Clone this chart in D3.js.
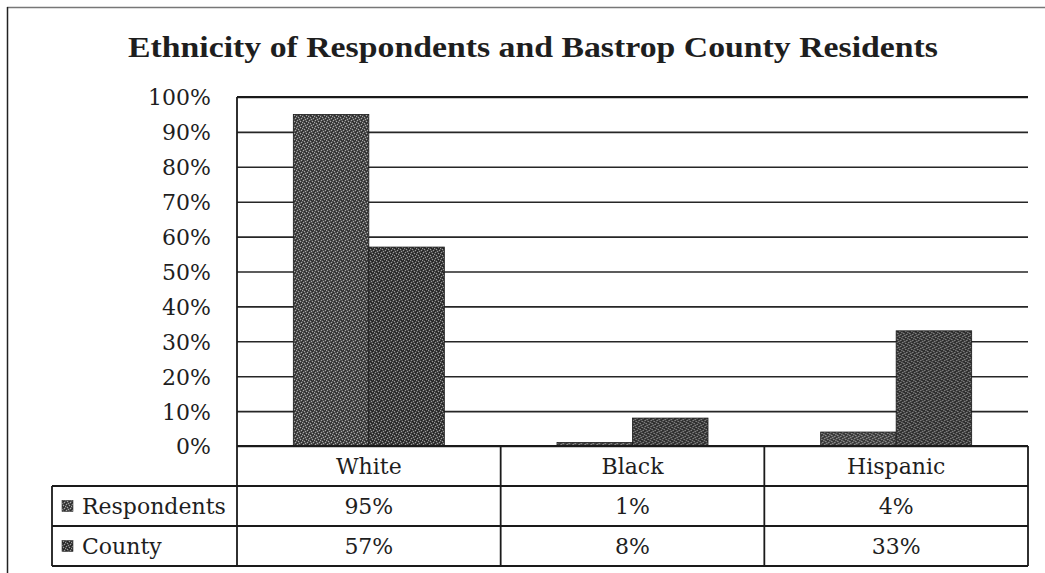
<!DOCTYPE html>
<html>
<head>
<meta charset="utf-8">
<script src="https://cdn.jsdelivr.net/npm/d3@7"></script>
<style>
  html, body { margin: 0; padding: 0; background: #fff; }
  svg { display: block; }
  text { font-family: "DejaVu Serif", "Liberation Serif", serif; fill: #1e1e1e; }
</style>
</head>
<body>
<svg id="chart" width="1045" height="573"></svg>
<script>
// Ethnicity shares (percent) by group
const categories = ["White", "Black", "Hispanic"];
const seriesNames = ["Respondents", "County"];
const respondents = [95, 1, 4];
const county = [57, 8, 33];
const tickValues = [0, 10, 20, 30, 40, 50, 60, 70, 80, 90, 100];
const titleText = "Ethnicity of Respondents and Bastrop County Residents";

const seriesValues = [respondents, county];

const svg = d3.select("#chart");
const W = 1045, H = 573;

// plot frame
const plotLeft = 237, plotRight = 1028, plotTop = 97, plotBottom = 446;
const rowH = 40;
const tableLeft = 52;
const tableBottom = plotBottom + rowH * 3;

// textured fills for the bars
const defs = svg.append("defs");
const fills = [
  { id: "texA", base: "#4c4c4c", dots: "#a8a8a8", dark: "#2a2a2a" },
  { id: "texB", base: "#404040", dots: "#9a9a9a", dark: "#202020" }
];
fills.forEach(f => {
  const p = defs.append("pattern")
    .attr("id", f.id).attr("width", 6).attr("height", 6)
    .attr("patternUnits", "userSpaceOnUse");
  p.append("rect").attr("width", 6).attr("height", 6).attr("fill", f.base);
  [[0,0],[3,1],[1,3],[4,4],[5,2],[2,5]].forEach(([x, y]) =>
    p.append("rect").attr("x", x).attr("y", y).attr("width", 1).attr("height", 1).attr("fill", f.dots));
  [[1,1],[4,0],[2,2],[0,4],[5,5],[3,3],[4,2]].forEach(([x, y]) =>
    p.append("rect").attr("x", x).attr("y", y).attr("width", 1).attr("height", 1).attr("fill", f.dark));
});

// outer frame lines
svg.append("line").attr("x1", 7).attr("x2", W).attr("y1", 7.5).attr("y2", 7.5)
  .attr("stroke", "#777").attr("stroke-width", 1.5);
svg.append("line").attr("x1", 7.5).attr("x2", 7.5).attr("y1", 7).attr("y2", H)
  .attr("stroke", "#222").attr("stroke-width", 1.5);

// title
const title = svg.append("text")
  .attr("x", (128 + 938) / 2).attr("y", 57)
  .attr("text-anchor", "middle")
  .style("font-family", '"Liberation Serif", serif')
  .style("font-weight", "bold").style("font-size", "29px")
  .text(titleText);
const tl = title.node().getComputedTextLength();
if (Math.abs(tl - 810) > 4) title.attr("textLength", 810).attr("lengthAdjust", "spacingAndGlyphs");

// scales
const y = d3.scaleLinear().domain([0, 100]).range([plotBottom, plotTop]);
const x0 = d3.scaleBand().domain(categories).range([plotLeft, plotRight]).padding(0);
const x1 = d3.scaleBand().domain(seriesNames).range([0, x0.bandwidth()])
  .paddingInner(0).paddingOuter(0.746);

// gridlines + tick labels
const yAxis = d3.axisLeft(y)
  .tickValues(tickValues)
  .tickSize(-(plotRight - plotLeft))
  .tickPadding(26)
  .tickFormat(d => d + "%");
const gAxis = svg.append("g").attr("transform", `translate(${plotLeft},0)`).call(yAxis);
gAxis.select(".domain").remove();
gAxis.selectAll(".tick line").attr("stroke", "#262626").attr("stroke-width", 1.6);
gAxis.selectAll(".tick text")
  .attr("fill", "#1e1e1e")
  .style("font-family", '"DejaVu Serif", serif')
  .style("font-size", "22px")
  .attr("dy", "0.36em");

// bars
const groups = svg.append("g").selectAll("g")
  .data(categories).join("g")
  .attr("transform", d => `translate(${x0(d)},0)`);
groups.selectAll("rect")
  .data((d, i) => seriesNames.map((s, j) => ({ s, j, v: seriesValues[j][i] })))
  .join("rect")
  .attr("x", d => x1(d.s))
  .attr("width", x1.bandwidth())
  .attr("y", d => y(d.v))
  .attr("height", d => y(0) - y(d.v))
  .attr("fill", d => `url(#${fills[d.j].id})`)
  .attr("stroke", "#1a1a1a").attr("stroke-width", 0.8);

// data table beneath the plot
const table = svg.append("g");
const lineStyle = sel => sel.attr("stroke", "#1a1a1a").attr("stroke-width", 1.8);

// header row (category names)
table.append("line").attr("x1", plotLeft).attr("x2", plotRight)
  .attr("y1", plotBottom).attr("y2", plotBottom).call(lineStyle);
[1, 2].forEach(r => table.append("line")
  .attr("x1", tableLeft).attr("x2", plotRight)
  .attr("y1", plotBottom + rowH * r).attr("y2", plotBottom + rowH * r).call(lineStyle));
table.append("line").attr("x1", tableLeft).attr("x2", plotRight)
  .attr("y1", tableBottom).attr("y2", tableBottom).call(lineStyle);

// vertical rules
table.append("line").attr("x1", plotLeft).attr("x2", plotLeft)
  .attr("y1", plotTop).attr("y2", tableBottom).call(lineStyle);
categories.forEach(c => {
  const xr = x0(c) + x0.bandwidth();
  table.append("line").attr("x1", xr).attr("x2", xr)
    .attr("y1", plotBottom).attr("y2", tableBottom).call(lineStyle);
});
table.append("line").attr("x1", tableLeft).attr("x2", tableLeft)
  .attr("y1", plotBottom + rowH).attr("y2", tableBottom).call(lineStyle);
table.append("line").attr("x1", plotLeft).attr("x2", plotRight)
  .attr("y1", plotTop).attr("y2", plotTop).call(lineStyle);

const cellText = (x, yc, t, anchor) => table.append("text")
  .attr("x", x).attr("y", yc + 8)
  .attr("text-anchor", anchor)
  .style("font-size", "22px")
  .text(t);

categories.forEach(c => cellText(x0(c) + x0.bandwidth() / 2, plotBottom + rowH / 2, c, "middle"));

seriesNames.forEach((s, j) => {
  const yc = plotBottom + rowH * (j + 1) + rowH / 2;
  table.append("rect")
    .attr("x", 62).attr("y", yc - 5.5).attr("width", 11).attr("height", 11)
    .attr("fill", `url(#${fills[j].id})`).attr("stroke", "#333").attr("stroke-width", 0.6);
  cellText(82, yc, s, "start");
  categories.forEach((c, i) =>
    cellText(x0(c) + x0.bandwidth() / 2, yc, seriesValues[j][i] + "%", "middle"));
});
</script>
</body>
</html>
